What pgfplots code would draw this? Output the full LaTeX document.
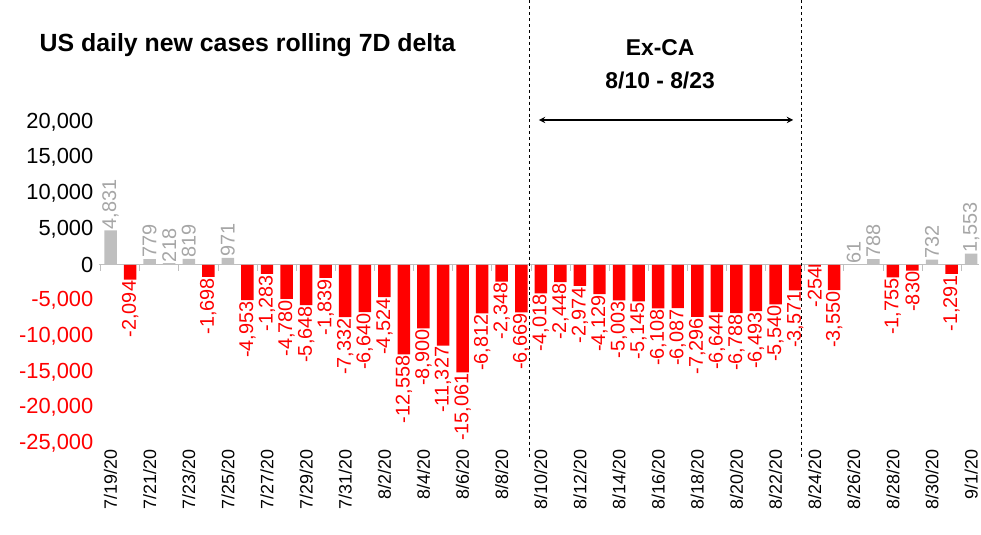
\documentclass[border=0pt]{standalone}
\usepackage{pgfplots}
\pgfplotsset{compat=1.18}
\usepackage{fontspec}
\setmainfont{Liberation Sans}
\definecolor{bargray}{HTML}{BFBFBF}
\definecolor{labgray}{HTML}{A6A6A6}
\begin{document}
\begin{tikzpicture}[x=1bp,y=1bp]
\begin{axis}[
  scale only axis, width=882bp, height=322bp,
  xmin=-0.6, xmax=44.4, ymin=-25000, ymax=20000,
  axis line style={draw=none}, major tick length=0,
  clip=false, scaled y ticks=false,
  ybar, bar width=12.5bp, bar shift=0pt,
  xtick={0,2,...,44},
  xticklabels={7/19/20,7/21/20,7/23/20,7/25/20,7/27/20,7/29/20,7/31/20,8/2/20,8/4/20,8/6/20,8/8/20,8/10/20,8/12/20,8/14/20,8/16/20,8/18/20,8/20/20,8/22/20,8/24/20,8/26/20,8/28/20,8/30/20,9/1/20},
  xticklabel style={rotate=90, anchor=east, font=\fontsize{18}{18}\selectfont, xshift=-3bp},
  ytick={-25000,-20000,-15000,-10000,-5000,0,5000,10000,15000,20000},
  yticklabels={\textcolor{red}{-25,000},\textcolor{red}{-20,000},\textcolor{red}{-15,000},\textcolor{red}{-10,000},\textcolor{red}{-5,000},0,{5,000},{10,000},{15,000},{20,000}},
  yticklabel style={font=\fontsize{22}{22}\selectfont, xshift=-2bp},
  nodes near coords={\pgfmathprintnumber[assume math mode=true,1000 sep={,}]{\pgfplotspointmeta}},
  every node near coord/.append style={rotate=90, font=\fontsize{20}{20}\selectfont, inner sep=1bp},
]
\draw[bargray, line width=1bp] (axis cs:-0.6,0) -- (axis cs:44.4,0);
\pgfplotsinvokeforeach{-0.5,1.5,...,43.5}{\draw[bargray, line width=1bp] (axis cs:#1,0) -- (axis cs:#1,-840);}
\addplot[fill=bargray, draw=none, nodes near coords style={anchor=west, text=labgray}]
 coordinates {(0,4831)(2,779)(3,218)(4,819)(6,971)(38,61)(39,788)(42,732)(44,1553)};
\addplot[fill=red, draw=none, nodes near coords style={anchor=east, text=red}]
 coordinates {(1,-2094)(5,-1698)(7,-4953)(8,-1283)(9,-4780)(10,-5648)(11,-1839)(12,-7332)(13,-6640)(14,-4524)(15,-12558)(16,-8900)(17,-11327)(18,-15061)(19,-6812)(20,-2348)(21,-6669)(22,-4018)(23,-2448)(24,-2974)(25,-4129)(26,-5003)(27,-5145)(28,-6108)(29,-6087)(30,-7296)(31,-6644)(32,-6788)(33,-6493)(34,-5540)(35,-3571)(36,-254)(37,-3550)(40,-1755)(41,-830)(43,-1291)};
\draw[dashed, thin] (axis cs:21.4,37050) -- (axis cs:21.4,-27236);
\draw[dashed, thin] (axis cs:35.3,37050) -- (axis cs:35.3,-27236);
\draw[<->, >=stealth, line width=1.8bp] (axis cs:21.9,20280) -- (axis cs:34.9,20280);
\node[font=\bfseries\fontsize{23}{23}\selectfont] at (axis cs:28.1,30340) {Ex-CA};
\node[font=\bfseries\fontsize{23}{23}\selectfont] at (axis cs:28.1,25870) {8/10 - 8/23};
\node[anchor=west, font=\bfseries\fontsize{25}{25}\selectfont] at (axis cs:-3.8,30760) {US daily new cases rolling 7D delta};
\end{axis}
\path[use as bounding box] (-99bp,-91bp) rectangle (882bp,444bp);
\end{tikzpicture}
\end{document}
